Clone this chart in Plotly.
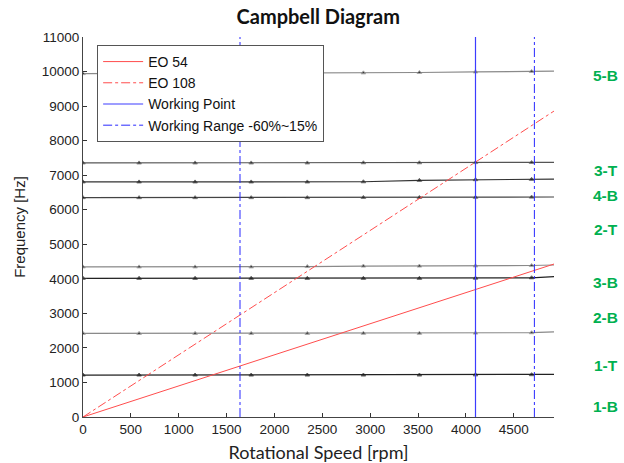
import plotly.graph_objects as go

# ---- data ----
rpm_marks = [0, 586, 1171, 1757, 2343, 2929, 3514, 4100, 4686, 4920]
mode_freqs = {
    "1-B": [1215, 1215, 1215, 1215, 1215, 1215, 1215, 1220, 1225, 1235],
    "2-B": [2420, 2420, 2420, 2420, 2420, 2425, 2425, 2430, 2440, 2465],
    "3-B": [4015, 4015, 4015, 4015, 4015, 4015, 4015, 4020, 4030, 4065],
    "2-T": [4345, 4345, 4345, 4345, 4355, 4370, 4370, 4375, 4385, 4400],
    "4-B": [6350, 6350, 6350, 6350, 6350, 6355, 6355, 6360, 6365, 6368],
    "4-Bb": [6805, 6805, 6805, 6805, 6805, 6810, 6850, 6870, 6880, 6888],
    "3-T": [7355, 7355, 7355, 7355, 7355, 7360, 7360, 7365, 7368, 7370],
    "5-B": [9940, 9942, 9945, 9950, 9955, 9962, 9972, 9990, 10003, 10010],
}
mode_colors = ["#222222", "#8a8a8a", "#222222", "#8a8a8a", "#444444", "#333333", "#555555", "#8a8a8a"]

eo_rpm = [0, 4920]
eo54_freq = [0, 4428]
eo108_freq = [0, 8856]

working_point = 4100
working_range = [1640, 4715]

label_names = ["5-B", "3-T", "4-B", "2-T", "3-B", "2-B", "1-T", "1-B"]
label_freqs = [9880, 7130, 6400, 5420, 3880, 2870, 1480, 290]

x_ticks = [0, 500, 1000, 1500, 2000, 2500, 3000, 3500, 4000, 4500]
y_ticks = list(range(0, 11001, 1000))

fig = go.Figure()

# mode lines
for (name, vals), col in zip(mode_freqs.items(), mode_colors):
    fig.add_trace(go.Scatter(
        x=rpm_marks, y=vals, mode="lines+markers", showlegend=False,
        line=dict(color=col, width=1.2),
        marker=dict(symbol="triangle-up", size=[4] * (len(rpm_marks) - 1) + [0], color="#111111"),
        hoverinfo="skip",
    ))

fig.add_trace(go.Scatter(x=eo_rpm, y=eo54_freq, mode="lines", name="EO 54",
                         line=dict(color="#ff4d4d", width=1)))
fig.add_trace(go.Scatter(x=eo_rpm, y=eo108_freq, mode="lines", name="EO 108",
                         line=dict(color="#ff4d4d", width=1, dash="dashdot")))
fig.add_trace(go.Scatter(x=[working_point, working_point], y=[0, 11000], mode="lines",
                         name="Working Point", line=dict(color="rgb(60,60,255)", width=1.2)))
fig.add_trace(go.Scatter(x=[working_range[0], working_range[0], None, working_range[1], working_range[1]],
                         y=[0, 11000, None, 0, 11000], mode="lines",
                         name="Working Range -60%~15%",
                         line=dict(color="rgb(40,40,255)", width=1, dash="dashdot")))

for name, fy in zip(label_names, label_freqs):
    fig.add_annotation(x=1.11, xref="paper", y=fy, yref="y", text="<b>" + name + "</b>",
                       showarrow=False, xanchor="center", yanchor="middle",
                       font=dict(family="Liberation Sans, Arial", size=15.5, color="#00b050"))

fig.update_layout(
    width=624, height=463,
    margin=dict(l=83, r=70, t=37, b=46, autoexpand=False),
    paper_bgcolor="white", plot_bgcolor="white",
    title=dict(text="<b>Campbell Diagram</b>", x=0.51, xanchor="center", y=0.963, yanchor="middle",
               font=dict(family="Lato, Open Sans", size=20, color="#111111")),
    legend=dict(x=0.03, y=0.979, xanchor="left", yanchor="top",
                bgcolor="white", bordercolor="#555555", borderwidth=1,
                font=dict(family="Liberation Sans, Arial", size=14, color="#111111"),
                tracegroupgap=0, itemwidth=40),
    showlegend=True,
)
fig.update_xaxes(range=[0, 4920], tickvals=x_ticks, ticktext=[str(v) for v in x_ticks],
                 ticks="inside", ticklen=4, tickcolor="#333", automargin=False,
                 showgrid=False, zeroline=False, showline=True, linecolor="#444", linewidth=1,
                 tickfont=dict(family="Liberation Sans, Arial", size=13.5, color="#222"),
                 title=dict(text="Rotational Speed [rpm]", standoff=17,
                            font=dict(family="Lato, Open Sans", size=18, color="#222")))
fig.update_yaxes(range=[0, 11000], tickvals=y_ticks, ticktext=[str(v) for v in y_ticks],
                 ticks="inside", ticklen=4, tickcolor="#333", automargin=False,
                 showgrid=False, zeroline=False, showline=True, linecolor="#444", linewidth=1,
                 tickfont=dict(family="Liberation Sans, Arial", size=13.5, color="#222"),
                 title=dict(text="Frequency [Hz]", standoff=12,
                            font=dict(family="Liberation Sans, Arial", size=15, color="#222")))

fig.write_html("out.html", config={"displayModeBar": False},
               post_script="document.body.style.margin='0';")
